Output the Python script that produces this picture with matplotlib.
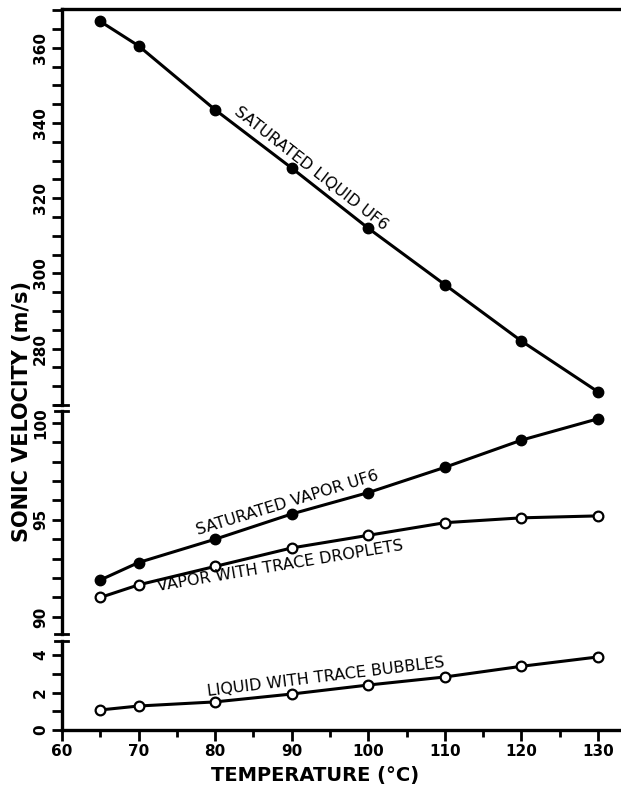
import matplotlib
matplotlib.use("Agg")
import matplotlib.pyplot as plt
from matplotlib.ticker import MultipleLocator

# ---- data
temp = [65, 70, 80, 90, 100, 110, 120, 130]              # deg C
sat_liquid = [367, 360.5, 343.5, 328, 312, 297, 282, 268.5]
sat_vapor = [91.9, 92.8, 94.0, 95.3, 96.4, 97.7, 99.1, 100.2]
vapor_drops = [91.0, 91.65, 92.6, 93.55, 94.2, 94.85, 95.1, 95.2]
liquid_bubbles = [1.07, 1.28, 1.5, 1.92, 2.4, 2.83, 3.4, 3.9]

W, H = 621, 787
fig = plt.figure(figsize=(W / 100, H / 100), dpi=100)


def box(top, bottom):
    # pixel rows -> figure fraction rect
    return [62 / W, 1 - bottom / H, 1 - 62 / W, (bottom - top) / H]


ax_top = fig.add_axes(box(9, 405))
ax_mid = fig.add_axes(box(411, 634))
ax_bot = fig.add_axes(box(641, 730))

ax_top.set_ylim(265, 370.3)
ax_mid.set_ylim(89.12, 100.6)
ax_bot.set_ylim(0, 4.75)

ax_top.yaxis.set_major_locator(MultipleLocator(20))
ax_top.yaxis.set_minor_locator(MultipleLocator(5))
ax_mid.yaxis.set_major_locator(MultipleLocator(5))
ax_mid.yaxis.set_minor_locator(MultipleLocator(1))
ax_bot.yaxis.set_major_locator(MultipleLocator(2))
ax_bot.yaxis.set_minor_locator(MultipleLocator(1))

for ax in (ax_top, ax_mid, ax_bot):
    ax.set_xlim(60, 133)
    ax.patch.set_alpha(0)
    ax.spines['right'].set_visible(False)
    ax.spines['top'].set_visible(ax is ax_top)
    ax.spines['bottom'].set_visible(ax is ax_bot)
    for s in ax.spines.values():
        s.set_linewidth(2.4)
    ax.tick_params(axis='y', which='both', direction='out', length=7, width=2,
                   labelrotation=90, pad=3, labelsize=11)
    plt.setp(ax.get_yticklabels(), va='center', fontweight='bold')
    if ax is ax_bot:
        ax.xaxis.set_major_locator(MultipleLocator(10))
        ax.xaxis.set_minor_locator(MultipleLocator(5))
        ax.tick_params(axis='x', which='major', direction='out', length=8, width=2,
                       labelsize=11, pad=2)
        ax.tick_params(axis='x', which='minor', direction='out', length=5, width=2)
        plt.setp(ax.get_xticklabels(), fontweight='bold')
    else:
        ax.tick_params(axis='x', which='both', bottom=False, top=False,
                       labelbottom=False)

# break marks on the y axis
for ax, yy in ((ax_top, 0), (ax_mid, 1), (ax_mid, 0), (ax_bot, 1)):
    ax.plot([-0.012, 0.01], [yy, yy], transform=ax.transAxes, color='black',
            lw=2, clip_on=False)

filled = dict(color='black', lw=2.2, marker='o', ms=7.5, clip_on=False)
hollow = dict(color='black', lw=2.2, marker='o', ms=7, mfc='white', mec='black',
              mew=1.6, clip_on=False)

ax_top.plot(temp, sat_liquid, **filled)
ax_mid.plot(temp, sat_vapor, **filled)
ax_mid.plot(temp, vapor_drops, **hollow)
ax_bot.plot(temp, liquid_bubbles, **hollow)

lab = dict(ha='center', va='center', fontsize=11.5, rotation_mode='anchor')
ax_top.text(92.5, 327.8, "SATURATED LIQUID UF6", rotation=-38, **lab)
ax_mid.text(89.5, 95.85, "SATURATED VAPOR UF6", rotation=17, **lab)
ax_mid.text(88.5, 92.6, "VAPOR WITH TRACE DROPLETS", rotation=9.5, **lab)
ax_bot.text(94.5, 2.83, "LIQUID WITH TRACE BUBBLES", rotation=7, **lab)

fig.text(0.035, 1 - 411 / H, "SONIC VELOCITY (m/s)", rotation=90, ha='center',
         va='center', fontsize=15, fontweight='bold')
fig.text(0.507, 1 - 775 / H, "TEMPERATURE (°C)", ha='center', va='center',
         fontsize=14, fontweight='bold')

fig.savefig("out.png", dpi=100)
